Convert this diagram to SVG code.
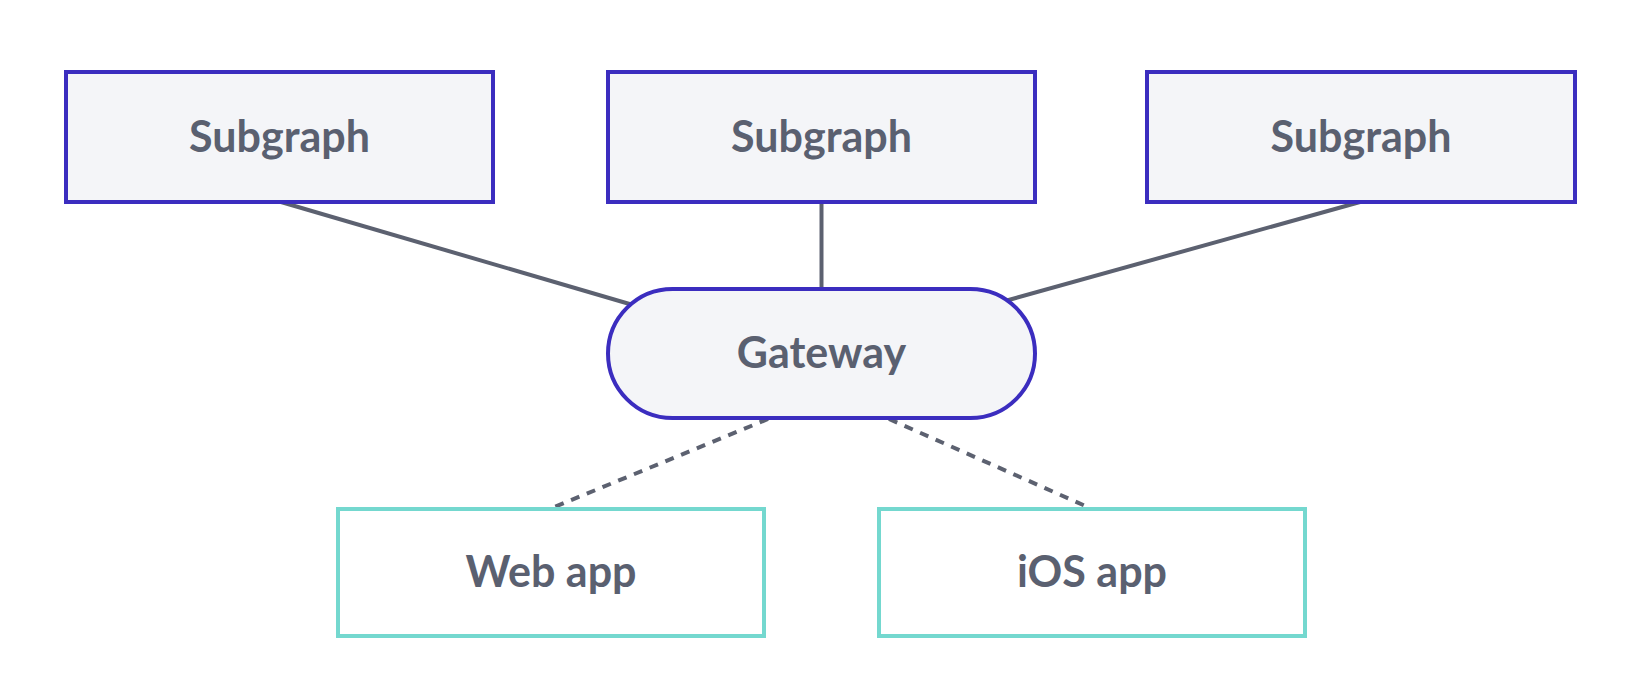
<svg xmlns="http://www.w3.org/2000/svg" width="1652" height="676" viewBox="0 0 1652 676">
<style>
.sub{fill:#f4f5f8;stroke:#3b2dbf;stroke-width:4}
.app{fill:#ffffff;stroke:#74d8cf;stroke-width:4}
.lbl{font-family:Lato,"Noto Sans",sans-serif;font-weight:700;font-size:43px;fill:#5a6070;text-anchor:middle}
.edge{stroke:#5c6170;stroke-width:4;fill:none}
.dash{stroke-dasharray:9 8}
</style>
<rect width="1652" height="676" fill="#ffffff"/>
<g id="connectors">
<line class="edge" x1="281" y1="202" x2="633" y2="305"/>
<line class="edge" x1="821.5" y1="202" x2="821.5" y2="289"/>
<line class="edge" x1="1360" y1="202" x2="1005" y2="301"/>
<line class="edge dash" x1="768" y1="419" x2="552" y2="508"/>
<line class="edge dash" x1="889" y1="419" x2="1090" y2="508"/>
</g>
<g id="subgraph1">
<rect class="sub" x="66" y="72" width="427" height="130"/>
<text class="lbl" x="279.5" y="152">Subgraph</text>
</g>
<g id="subgraph2">
<rect class="sub" x="608" y="72" width="427" height="130"/>
<text class="lbl" x="821.5" y="152">Subgraph</text>
</g>
<g id="subgraph3">
<rect class="sub" x="1147" y="72" width="428" height="130"/>
<text class="lbl" x="1361" y="152">Subgraph</text>
</g>
<g id="gateway">
<rect class="sub" x="608" y="289" width="427" height="129" rx="64.5" ry="64.5"/>
<text class="lbl" x="821.5" y="368">Gateway</text>
</g>
<g id="webapp">
<rect class="app" x="338" y="509" width="426" height="127"/>
<text class="lbl" x="551" y="587">Web app</text>
</g>
<g id="iosapp">
<rect class="app" x="879" y="509" width="426" height="127"/>
<text class="lbl" x="1092" y="587">iOS app</text>
</g>
</svg>
